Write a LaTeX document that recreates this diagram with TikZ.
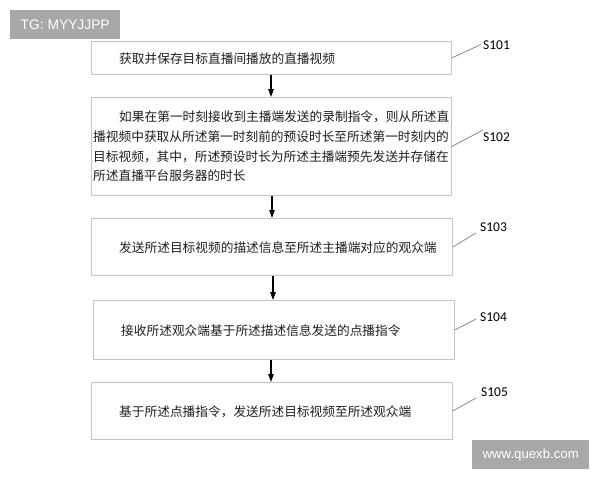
\documentclass[tikz,border=0pt]{standalone}
\usepackage{fontspec}
\setmainfont{Liberation Sans}
\newfontfamily\cjk{Noto Sans CJK SC}
\newfontfamily\lblfont{Carlito}
\usetikzlibrary{arrows.meta}
\definecolor{boxgray}{HTML}{C4C4C4}
\definecolor{badgegray}{HTML}{A8A8A8}
\definecolor{txtcol}{HTML}{1E1E1E}
\definecolor{leadgray}{HTML}{808080}
\begin{document}
\begin{tikzpicture}[x=1pt,y=-1pt,
  stepbox/.style={draw=boxgray, line width=0.9pt, fill=white, anchor=north west, inner sep=0pt, minimum width=360pt},
  cjktxt/.style={anchor=base west, inner sep=0pt, text=txtcol, font=\cjk\fontsize{12.7}{15}\selectfont},
  steplbl/.style={anchor=west, inner sep=0pt, text=black, font=\lblfont\fontsize{13.5}{15}\selectfont},
  leader/.style={draw=leadgray, line width=0.7pt},
  flow/.style={draw=black, line width=1.1pt, -{Triangle[length=8pt,width=5.5pt]}},
  badge/.style={fill=badgegray, text=white, inner sep=0pt}
]
\useasboundingbox (0,0) rectangle (600,480);
\fill[white] (0,0) rectangle (600,480);

% badges
\node[badge, minimum width=110pt, minimum height=29pt, anchor=north west, font=\fontsize{13.8}{15}\selectfont] (tg) at (10,10) {TG: MYYJJPP};
\node[badge, minimum width=117pt, minimum height=29pt, anchor=north west, font=\fontsize{13.2}{15}\selectfont] (wm) at (472,440) {www.quexb.com};

% boxes
\node[stepbox, minimum height=33pt] (b1) at (91,41) {};
\node[stepbox, minimum height=98pt] (b2) at (91,97) {};
\node[stepbox, minimum height=57pt, minimum width=361pt] (b3) at (91,218) {};
\node[stepbox, minimum height=59pt, minimum width=361pt] (b4) at (93,300) {};
\node[stepbox, minimum height=57pt, minimum width=361pt] (b5) at (91,382) {};

% texts
\node[cjktxt] (t1) at (119,63) {获取并保存目标直播间播放的直播视频};
\node[cjktxt] (t2a) at (119,121.8) {如果在第一时刻接收到主播端发送的录制指令，则从所述直};
\node[cjktxt] (t2b) at (93,141.5) {播视频中获取从所述第一时刻前的预设时长至所述第一时刻内的};
\node[cjktxt] (t2c) at (93,161) {目标视频，其中，所述预设时长为所述主播端预先发送并存储在};
\node[cjktxt] (t2d) at (93,180.7) {所述直播平台服务器的时长};
\node[cjktxt] (t3) at (119,252) {发送所述目标视频的描述信息至所述主播端对应的观众端};
\node[cjktxt] (t4) at (121,335) {接收所述观众端基于所述描述信息发送的点播指令};
\node[cjktxt] (t5) at (119,416) {基于所述点播指令，发送所述目标视频至所述观众端};

% labels
\node[steplbl] (s1) at (483,45) {S101};
\node[steplbl] (s2) at (483,137) {S102};
\node[steplbl] (s3) at (480,227) {S103};
\node[steplbl] (s4) at (480,317) {S104};
\node[steplbl] (s5) at (481,392) {S105};

\coordinate (e1) at (481,44.5);
\coordinate (e2) at (483,130);
\coordinate (e3) at (476,233);
\coordinate (e4) at (476,319);
\coordinate (e5) at (476,398);

\draw[leader] (b1.east) -- (e1);
\draw[leader] (b2.east) -- (e2);
\draw[leader] (b3.east) -- (e3);
\draw[leader] (b4.east) -- (e4);
\draw[leader] (b5.east) -- (e5);

% arrows
\draw[flow] (b1.south -| 271,0) -- (b2.north -| 271,0);
\draw[flow] (b2.south -| 272,0) -- (b3.north -| 272,0);
\draw[flow] (b3.south -| 273,0) -- (b4.north -| 273,0);
\draw[flow] (b4.south -| 271,0) -- (b5.north -| 271,0);
\end{tikzpicture}
\end{document}
